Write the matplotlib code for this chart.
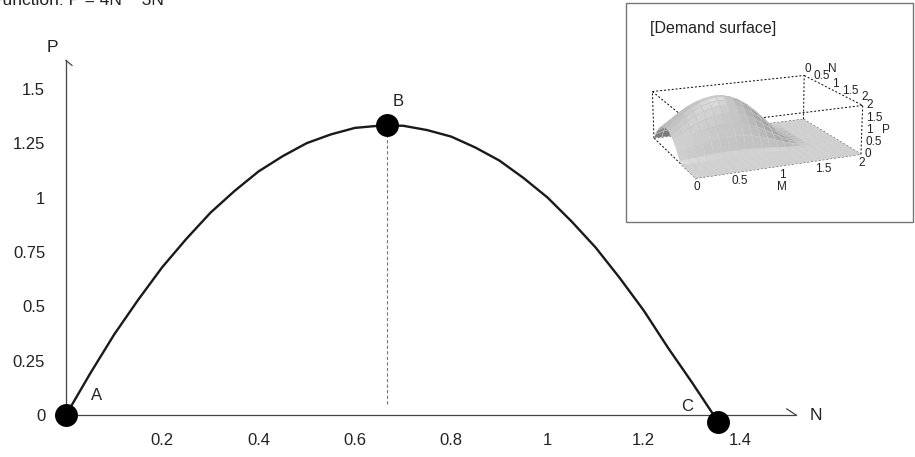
import numpy as np
import matplotlib
matplotlib.use("Agg")
import matplotlib.pyplot as plt
from matplotlib.patches import Rectangle
from matplotlib.colors import LightSource
from mpl_toolkits.mplot3d import proj3d

plt.rcParams['font.family'] = ['Liberation Sans', 'DejaVu Sans']

# curve P(N)
n_vals = [0, 0.05, 0.1, 0.15, 0.2, 0.25, 0.3, 0.35, 0.4, 0.45, 0.5, 0.55, 0.6, 0.65,
          0.7, 0.75, 0.8, 0.85, 0.9, 0.95, 1.0, 1.05, 1.1, 1.15, 1.2, 1.25, 1.3, 1.354]
p_vals = [0, 0.19, 0.37, 0.53, 0.68, 0.81, 0.93, 1.03, 1.12, 1.19, 1.25, 1.29, 1.32, 1.33,
          1.33, 1.31, 1.28, 1.23, 1.17, 1.09, 1.0, 0.89, 0.77, 0.63, 0.48, 0.31, 0.15, -0.03]

# labelled points
pt_names = ['A', 'B', 'C']
pt_n = [0, 0.667, 1.354]
pt_p = [0, 1.333, -0.03]

x_ticks = [0.2, 0.4, 0.6, 0.8, 1.0, 1.2, 1.4]
x_tick_labels = ['0.2', '0.4', '0.6', '0.8', '1', '1.2', '1.4']
y_ticks = [0, 0.25, 0.5, 0.75, 1.0, 1.25, 1.5]
y_tick_labels = ['0', '0.25', '0.5', '0.75', '1', '1.25', '1.5']

# demand surface profiles (inset), on a 0..2 grid step 0.1
grid_vals = [i / 10 for i in range(21)]
surf_n_profile = [0.0, 0.37, 0.68, 0.93, 1.12, 1.25, 1.32, 1.33, 1.28, 1.17, 1.0,
                  0.77, 0.48, 0.13, 0, 0, 0, 0, 0, 0, 0]
surf_m_profile = [0.7, 0.9, 1.1, 1.26, 1.38, 1.46, 1.5, 1.49, 1.43, 1.32, 1.15,
                  0.93, 0.68, 0.43, 0.2, 0.06, 0, 0, 0, 0, 0]
surf_ticks = [0, 0.5, 1, 1.5, 2]
surf_tick_labels = ['0', '0.5', '1', '1.5', '2']

W, H = 915, 457
fig = plt.figure(figsize=(W / 100, H / 100), dpi=100)

# main axes: origin at pixel (66, 415)
x_px = 481.5
y_px = 217.5
x0, y0 = 66, 415
xlim = (0, 1.6)
ylim = (-0.1, 1.7)
ax = fig.add_axes([x0 / W, (H - y0 + ylim[0] * y_px) / H,
                   (xlim[1] - xlim[0]) * x_px / W, (ylim[1] - ylim[0]) * y_px / H])
ax.set_xlim(*xlim)
ax.set_ylim(*ylim)
ax.patch.set_visible(False)

for s in ['top', 'right']:
    ax.spines[s].set_visible(False)
ax.spines['left'].set_position(('data', 0))
ax.spines['bottom'].set_position(('data', 0))
ax.spines['left'].set_bounds(0, 1.63)
ax.spines['bottom'].set_bounds(0, 1.516)
for s in ['left', 'bottom']:
    ax.spines[s].set_color('#444444')
    ax.spines[s].set_linewidth(0.9)

# half arrow heads
ax.plot([1.516, 1.497], [0, 0.028], color='#444444', lw=0.9, clip_on=False)
ax.plot([0, 0.0125], [1.63, 1.607], color='#444444', lw=0.9, clip_on=False)

ax.set_xticks(x_ticks)
ax.set_xticklabels(x_tick_labels, fontsize=12, color='#222222')
ax.set_yticks(y_ticks)
ax.set_yticklabels(y_tick_labels, fontsize=12, color='#222222')
ax.tick_params(axis='x', length=0, pad=13)
ax.tick_params(axis='y', length=0, pad=15)

ax.text(1.545, 0, 'N', fontsize=12.5, ha='left', va='center', color='#222222')
ax.text(-0.028, 1.69, 'P', fontsize=12.5, ha='center', va='center', color='#222222', clip_on=False)

ax.plot([pt_n[1], pt_n[1]], [0.05, pt_p[1]], color='#777777', lw=0.8,
        dashes=(3, 2))
ax.plot(n_vals, p_vals, color='#1a1a1a', lw=1.7, clip_on=False, zorder=3)
ax.plot(pt_n, pt_p, 'o', color='black', ms=15.5, clip_on=False, zorder=4)

offsets = [(22, 14), (8, 17), (-22, 11)]
for name, n, p, off in zip(pt_names, pt_n, pt_p, offsets):
    ax.annotate(name, (n, p), xytext=off, textcoords='offset points',
                ha='center', va='center', fontsize=12, color='#222222')

# cut-off function label at the top
fig.text(-8 / W, 1 - 5 / H, 'Function: P = 4N \u2212 3N\u00b2', fontsize=12.5,
         ha='left', va='baseline', color='#222222')

# inset frame
fig.patches.append(Rectangle((626 / W, (H - 222) / H), 287 / W, 219 / H,
                             transform=fig.transFigure, facecolor='white',
                             edgecolor='#777777', lw=1, zorder=5))
fig.text(650 / W, 1 - 28 / H, '[Demand surface]', fontsize=11.5, ha='left',
         va='center', color='#222222', zorder=6)

# 3D surface
ax3 = fig.add_axes([612 / W, (H - 225) / H, 280 / W, 200 / H],
                   projection='3d', proj_type='persp', focal_length=0.85, zorder=6)
ax3.patch.set_visible(False)
M, N = np.meshgrid(grid_vals, grid_vals)
P = np.outer(surf_n_profile, surf_m_profile)
ax3.set_xlim(0, 2)
ax3.set_ylim(2, 0)
ax3.set_zlim(0, 2)
ax3.set_box_aspect((1, 0.75, 0.29), zoom=1.07)
ax3.view_init(elev=17, azim=-113)
ax3.set_axis_off()

corners = [0, 2]
for a in corners:
    for b in corners:
        ax3.plot([0, 2], [a, a], [b, b], color='black', lw=0.7, ls=(0, (2, 2)))
        ax3.plot([a, a], [0, 2], [b, b], color='black', lw=0.7, ls=(0, (2, 2)))
        ax3.plot([a, a], [b, b], [0, 2], color='black', lw=0.7, ls=(0, (2, 2)))

ax3.plot_surface(M, N, P, color='#e0e0e0', edgecolor='#cbcbcb', lw=0.3,
                 shade=True, lightsource=LightSource(azdeg=330, altdeg=55))

for art in ax3.collections + ax3.lines:
    art.set_clip_on(False)

# inset tick labels, placed from the projected box
fig.canvas.draw()


def to_fig(x, y, z):
    xs, ys, _ = proj3d.proj_transform(x, y, z, ax3.M)
    disp = ax3.transData.transform((xs, ys))
    return fig.transFigure.inverted().transform(disp)


def inset_text(x, y, z, s, dx, dy, ha='center', va='center'):
    fx, fy = to_fig(x, y, z)
    fig.text(fx + dx / W, fy + dy / H, s, fontsize=8.5, ha=ha, va=va,
             color='#222222', zorder=7)


for t, lab in zip(surf_ticks, surf_tick_labels):
    inset_text(t, 2, 0, lab, 1, -3, va='top')
    if t < 2:
        inset_text(2, t, 2, lab, 4, 6)
    inset_text(2, 2, t, lab, 4, 0, ha='left')
inset_text(2, 2, 2, '2', 2, 8)
inset_text(1, 2, 0, 'M', 1, -15, va='top')
inset_text(2, 0, 2, 'N', 28, 6)
inset_text(2, 2, 1, 'P', 20, 0, ha='left')

fig.savefig('out.png', dpi=100)
